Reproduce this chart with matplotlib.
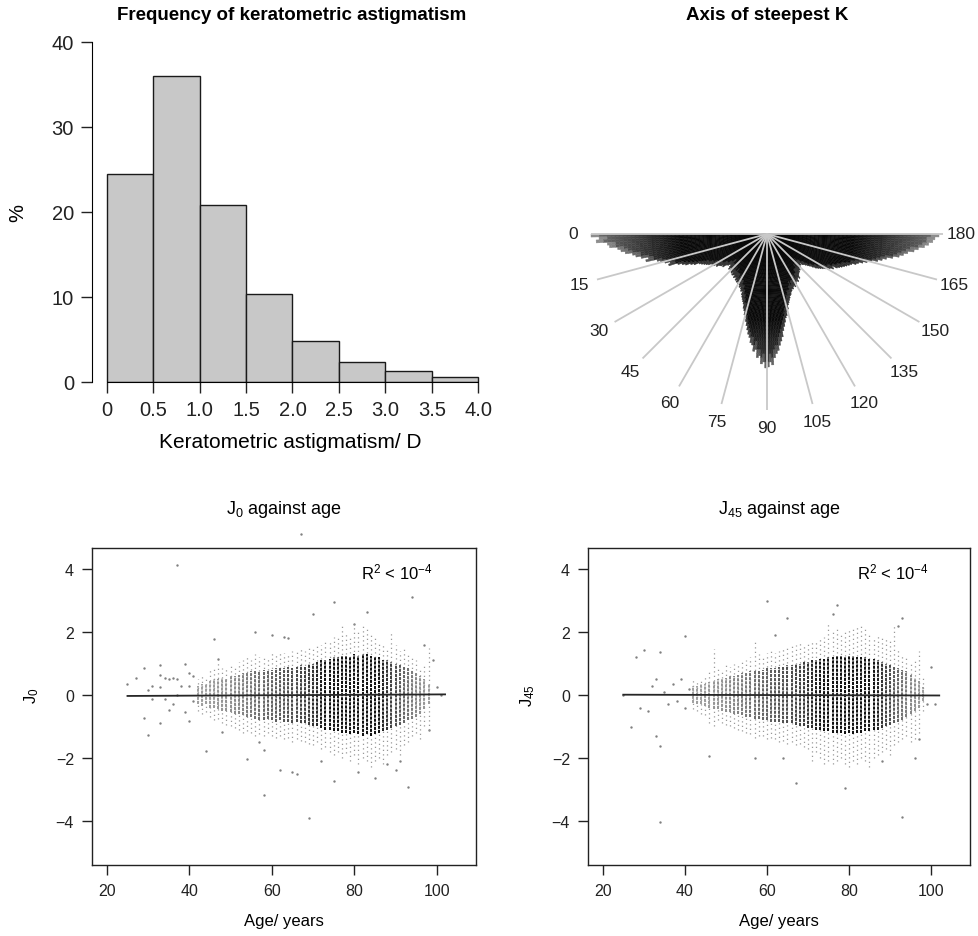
import numpy as np
import matplotlib.pyplot as plt
from matplotlib.collections import PolyCollection

plt.rcParams['font.family'] = ['Liberation Sans', 'DejaVu Sans']
plt.rcParams['mathtext.fontset'] = 'custom'
plt.rcParams['mathtext.rm'] = 'Liberation Sans'
plt.rcParams['mathtext.it'] = 'Liberation Sans'

# ---- histogram of keratometric astigmatism ----
hist_edges = [0, 0.5, 1.0, 1.5, 2.0, 2.5, 3.0, 3.5, 4.0]
hist_pct = [24.5, 36.0, 20.8, 10.3, 4.8, 2.3, 1.3, 0.6]
hist_ticklabels = ['0', '0.5', '1.0', '1.5', '2.0', '2.5', '3.0', '3.5', '4.0']

# ---- rose of steepest-K axis: one bar per degree, 0..179 ----
rose_freq = [
    176, 168, 171, 160, 158, 150, 147, 143, 136, 133,
    128, 121, 124, 113, 110, 106, 101, 103, 94, 90,
    87, 82, 79, 74, 72, 70, 68, 66, 63, 62,
    62, 59, 60, 57, 56, 54, 55, 51, 50, 48,
    47, 50, 52, 49, 51, 50, 52, 53, 51, 54,
    53, 52, 55, 54, 53, 56, 55, 57, 56, 58,
    56, 58, 60, 59, 61, 63, 62, 66, 68, 70,
    72, 74, 78, 80, 84, 86, 90, 94, 98, 102,
    105, 110, 112, 118, 116, 124, 122, 130, 128, 134,
    133, 128, 131, 124, 120, 117, 112, 108, 104, 98,
    94, 90, 86, 84, 80, 78, 74, 72, 70, 68,
    66, 65, 63, 62, 60, 61, 59, 58, 60, 57,
    58, 56, 55, 57, 54, 53, 55, 52, 51, 50,
    50, 48, 49, 47, 46, 47, 45, 46, 44, 47,
    48, 50, 52, 54, 57, 60, 62, 64, 66, 68,
    70, 72, 75, 73, 78, 80, 82, 84, 86, 88,
    90, 94, 96, 100, 104, 108, 114, 118, 122, 128,
    134, 138, 142, 148, 152, 158, 162, 166, 168, 172,
]
rose_labels = [0, 15, 30, 45, 60, 75, 90, 105, 120, 135, 150, 165, 180]

# ---- J0 / J45 against age: per-age column extents (ages 42..98) ----
col_ages = list(range(42, 99))
col_n = [6, 8, 8, 10, 12, 14, 16, 18, 22, 26, 30, 34, 40, 44, 50, 54, 58, 62, 66, 68,
         72, 76, 80, 84, 88, 92, 96, 100, 110, 120, 130, 140, 150, 160, 170, 180, 180, 175,
         180, 175, 170, 165, 160, 150, 140, 125, 110, 95, 85, 70, 60, 50, 40, 30, 22, 14, 8]

j0_lo_out = [-0.5, -0.6, -0.55, -0.7, -0.8, -0.75, -0.9, -0.95, -1.0, -1.05, -1.1, -1.2, -1.15, -1.2,
             -1.3, -1.25, -1.3, -1.2, -1.3, -1.35, -1.3, -1.4, -1.35, -1.5, -1.4, -1.45, -1.5, -1.55,
             -1.6, -1.5, -1.7, -1.65, -1.8, -1.9, -1.8, -2.0, -1.85, -2.1, -1.9, -2.2, -2.0, -2.1,
             -2.3, -2.1, -2.0, -2.2, -1.9, -1.8, -1.7, -1.9, -1.6, -1.5, -1.3, -1.2, -1.4, -1.0, -1.1]
j0_hi_out = [0.5, 0.65, 0.6, 0.8, 0.9, 1.1, 0.85, 0.9, 1.0, 0.95, 1.05, 1.1, 1.2, 1.1,
             1.3, 1.2, 1.25, 1.2, 1.35, 1.3, 1.4, 1.35, 1.3, 1.4, 1.45, 1.5, 1.4, 1.6,
             1.5, 1.65, 1.6, 1.75, 1.7, 1.85, 1.9, 2.3, 2.0, 1.9, 2.25, 2.0, 2.3, 2.1,
             1.9, 1.8, 1.7, 1.6, 1.5, 2.0, 1.6, 1.4, 1.5, 1.3, 1.2, 1.1, 0.9, 1.0, 1.5]
j0_lo_core = [-0.3, -0.35, -0.3, -0.4, -0.4, -0.45, -0.5, -0.5, -0.55, -0.6, -0.6, -0.65, -0.7, -0.7,
              -0.75, -0.8, -0.8, -0.75, -0.8, -0.85, -0.8, -0.85, -0.85, -0.9, -0.85, -0.9, -0.9, -0.95,
              -1.0, -1.0, -1.05, -1.1, -1.1, -1.15, -1.15, -1.2, -1.2, -1.25, -1.2, -1.25, -1.3, -1.25,
              -1.3, -1.25, -1.2, -1.15, -1.1, -1.05, -1.0, -0.95, -0.9, -0.8, -0.75, -0.7, -0.6, -0.45, -0.3]
j0_hi_core = [0.3, 0.35, 0.35, 0.45, 0.5, 0.5, 0.55, 0.5, 0.6, 0.6, 0.65, 0.7, 0.7, 0.75,
              0.75, 0.75, 0.8, 0.8, 0.8, 0.85, 0.85, 0.85, 0.9, 0.85, 0.9, 0.95, 0.9, 1.0,
              1.0, 1.05, 1.1, 1.1, 1.15, 1.2, 1.2, 1.25, 1.25, 1.2, 1.3, 1.25, 1.3, 1.3,
              1.25, 1.2, 1.2, 1.1, 1.1, 1.05, 1.0, 0.95, 0.9, 0.85, 0.8, 0.7, 0.6, 0.5, 0.35]

j45_lo_out = [-0.45, -0.5, -0.6, -0.65, -0.9, -1.0, -0.8, -0.9, -0.95, -1.0, -1.05, -1.1, -1.15, -1.2,
              -1.25, -1.35, -1.3, -1.3, -1.4, -1.35, -1.4, -1.5, -1.45, -1.55, -1.5, -1.6, -1.55, -1.65,
              -1.7, -2.1, -1.8, -2.0, -2.2, -2.1, -2.2, -2.1, -2.0, -2.2, -2.3, -2.1, -2.2, -2.0,
              -2.1, -2.3, -2.0, -1.9, -1.8, -1.7, -1.9, -1.6, -1.5, -1.4, -1.3, -1.5, -1.4, -1.2, -0.5]
j45_hi_out = [0.5, 0.45, 0.55, 0.6, 0.8, 1.45, 0.85, 0.8, 1.0, 0.9, 1.0, 1.0, 1.05, 1.1,
              1.2, 1.7, 1.3, 1.25, 1.35, 1.4, 1.35, 1.4, 1.45, 1.5, 1.55, 1.6, 1.65, 1.6,
              1.7, 1.7, 1.75, 1.8, 1.85, 2.3, 2.0, 2.1, 2.0, 2.05, 2.1, 2.15, 2.2, 2.3,
              2.1, 1.9, 1.8, 1.9, 1.85, 1.8, 1.7, 2.2, 1.5, 1.3, 1.2, 1.0, 1.1, 1.4, 0.6]
j45_lo_core = [-0.25, -0.3, -0.3, -0.35, -0.4, -0.45, -0.45, -0.5, -0.55, -0.55, -0.6, -0.6, -0.65, -0.7,
               -0.7, -0.75, -0.75, -0.8, -0.8, -0.85, -0.85, -0.85, -0.9, -0.9, -0.9, -0.95, -1.0, -1.0,
               -1.05, -1.05, -1.1, -1.1, -1.15, -1.15, -1.2, -1.2, -1.2, -1.25, -1.2, -1.25, -1.2, -1.2,
               -1.15, -1.15, -1.1, -1.1, -1.05, -1.0, -0.95, -0.9, -0.85, -0.8, -0.7, -0.6, -0.5, -0.4, -0.2]
j45_hi_core = [0.3, 0.3, 0.35, 0.35, 0.4, 0.45, 0.5, 0.5, 0.55, 0.6, 0.6, 0.65, 0.7, 0.7,
               0.75, 0.75, 0.8, 0.8, 0.85, 0.85, 0.85, 0.9, 0.9, 0.95, 0.95, 1.0, 1.0, 1.05,
               1.05, 1.1, 1.1, 1.15, 1.15, 1.2, 1.2, 1.25, 1.25, 1.2, 1.25, 1.25, 1.2, 1.2,
               1.2, 1.15, 1.15, 1.1, 1.05, 1.0, 0.95, 0.9, 0.85, 0.8, 0.75, 0.65, 0.55, 0.45, 0.25]

# scattered individual points away from the columns
j0_pt_age = [25, 27, 29, 29, 30, 30, 31, 31, 33, 33, 33, 33, 34, 34, 35, 35, 36, 36, 37, 37, 37, 38,
             39, 39, 40, 40, 40, 41, 41, 44, 46, 47, 48, 54, 56, 57, 58, 58, 62, 64, 65, 66, 67,
             70, 69, 75, 75, 81, 83, 85, 90, 93, 94, 100, 99, 97, 98, 101, 60, 63, 72, 80, 88, 91]
j0_pt_val = [0.35, 0.54, 0.86, -0.72, 0.16, -1.26, -0.13, 0.3, 0.96, 0.63, 0.24, -0.9, 0.54, -0.14,
             0.5, -0.47, 0.55, -0.3, 0.5, 4.13, 0.0, 0.3, 0.98, -0.53, 0.69, 0.29, -0.84, 0.6, -0.2,
             -1.77, 1.78, 1.14, -1.18, -2.03, 2.0, -1.49, -3.17, -1.76, -2.37, 1.8, -2.45, -2.5, 5.1,
             2.57, -3.92, 2.96, -2.73, -2.45, 2.64, -2.63, -2.38, -2.92, 3.1, 0.25, 1.1, 1.6, -1.1,
             0.0, 1.9, 1.85, -2.1, 2.25, -2.2, -2.1]
j45_pt_age = [25, 27, 28, 30, 29, 31, 32, 33, 33, 34, 34, 34, 35, 36, 37, 38, 39, 40, 40, 41, 46, 57,
              60, 64, 67, 65, 62, 77, 76, 79, 93, 93, 92, 88, 100, 99, 101, 97, 96]
j45_pt_val = [0.0, -1.03, 1.2, 1.42, -0.4, -0.5, 0.3, 0.52, -1.29, -1.63, 1.37, -4.04, 0.1, -0.3,
              0.35, -0.2, 0.5, 1.88, -0.4, 0.2, -1.95, -2.0, 3.0, -2.0, -2.8, 2.45, 1.9, 2.87, 2.58,
              -2.94, 2.46, -3.88, 2.2, -2.1, 0.9, -0.3, -0.3, -1.4, -2.0]

# least-squares lines (end points)
fit_age = [25, 102]
j0_fit = [-0.03, 0.02]
j45_fit = [0.01, -0.015]

W, H = 979, 937
fig = plt.figure(figsize=(W / 100, H / 100), dpi=100)


def box(l, t, r, b):
    return [l / W, 1 - b / H, (r - l) / W, (b - t) / H]


def ftext(x, y, s, **kw):
    fig.text(x / W, 1 - y / H, s, ha='center', va='center', **kw)


# ---------------- histogram ----------------
ax1 = fig.add_axes(box(92, 43, 493, 383))
ax1.bar(hist_edges[:-1], hist_pct, width=np.diff(hist_edges), align='edge',
        color='#c8c8c8', edgecolor='#1a1a1a', linewidth=1.0)
ax1.set_xlim(-0.16, 4.16)
ax1.set_ylim(0, 40)
for s in ['top', 'right']:
    ax1.spines[s].set_visible(False)
ax1.spines['left'].set_bounds(0, 40)
ax1.spines['bottom'].set_bounds(0, 4)
ax1.set_xticks(hist_edges)
ax1.set_xticklabels(hist_ticklabels)
ax1.set_yticks([0, 10, 20, 30, 40])
ax1.tick_params(length=8, width=1, labelsize=14.5, pad=5, colors='#222222')
ftext(292, 15, 'Frequency of keratometric astigmatism', fontsize=13.5, fontweight='bold')
ftext(18, 213, '%', fontsize=14.5, rotation=90)
ftext(290, 442, 'Keratometric astigmatism/ D', fontsize=15)

# ---------------- rose ----------------
ax2 = fig.add_axes(box(537, 40, 979, 460))
ax2.set_xlim(-230, 212)
ax2.set_ylim(-225, 195)
ax2.axis('off')
polys, cols = [], []
step = 4.0
for i, f in enumerate(rose_freq):
    a0, a1 = np.radians(i), np.radians(i + 1)
    r = 0.0
    while r < f:
        r2 = min(r + step, f)
        pts = [(-r * np.cos(a0), -r * np.sin(a0)), (-r2 * np.cos(a0), -r2 * np.sin(a0)),
               (-r2 * np.cos(a1), -r2 * np.sin(a1)), (-r * np.cos(a1), -r * np.sin(a1))]
        polys.append(pts)
        rm = 0.5 * (r + r2)
        g = 0.03 + 0.42 * np.clip((rm - 85) / 90, 0, 1)
        if f - r2 < 5:
            g = min(g + 0.15, 0.55)
        cols.append((g, g, g))
        r = r2
ax2.add_collection(PolyCollection(polys, facecolors=cols, edgecolors=cols, linewidths=0.3))
for a in rose_labels:
    t = np.radians(a)
    ax2.plot([0, -176 * np.cos(t)], [0, -176 * np.sin(t)], color='#c8c8c8', lw=1.3,
             solid_capstyle='butt')
    ax2.text(-194 * np.cos(t), -194 * np.sin(t), str(a), ha='center', va='center',
             fontsize=12.5, color='#222222')
ftext(767, 15, 'Axis of steepest K', fontsize=13.5, fontweight='bold')


# ---------------- scatter panels ----------------
def scatter_panel(rect, lo_out, hi_out, lo_core, hi_core, pa, pv, fit, title, ylab, r2x):
    ax = fig.add_axes(box(*rect))
    ax.vlines(col_ages, lo_out, hi_out, colors='0.6', lw=0.9, linestyles=(0, (1, 2.6)))
    core_cols = [str(0.65 - 0.6 * min(n / 140, 1)) for n in col_n]
    ax.vlines(col_ages, lo_core, hi_core, colors=core_cols, lw=1.4, linestyles=(0, (1.6, 0.5)))
    ax.scatter(pa, pv, s=3, c='0.5', linewidths=0, clip_on=False)
    ax.plot(fit_age, fit, color='0.15', lw=1.3)
    ax.set_xlim(16.4, 109.5)
    ax.set_ylim(-5.4, 4.67)
    ax.set_xticks([20, 40, 60, 80, 100])
    ax.set_yticks([-4, -2, 0, 2, 4])
    ax.tick_params(length=7, width=1, labelsize=11.5, pad=6, colors='#222222')
    for s in ax.spines.values():
        s.set_linewidth(1.0)
        s.set_color('#222222')
    cx = 0.5 * (rect[0] + rect[2])
    ftext(cx, 509, title, fontsize=13)
    ftext(cx, 922, 'Age/ years', fontsize=12)
    ftext(rect[0] - 60, 696, ylab, fontsize=12, rotation=90)
    ftext(r2x, 572, r'R$^2$ < 10$^{-4}$', fontsize=12)


scatter_panel((92, 549, 476, 866), j0_lo_out, j0_hi_out, j0_lo_core, j0_hi_core,
              j0_pt_age, j0_pt_val, j0_fit, r'J$_0$ against age', r'J$_0$', 397)
scatter_panel((588, 549, 970, 866), j45_lo_out, j45_hi_out, j45_lo_core, j45_hi_core,
              j45_pt_age, j45_pt_val, j45_fit, r'J$_{45}$ against age', r'J$_{45}$', 893)

fig.savefig('out.png', dpi=100)
